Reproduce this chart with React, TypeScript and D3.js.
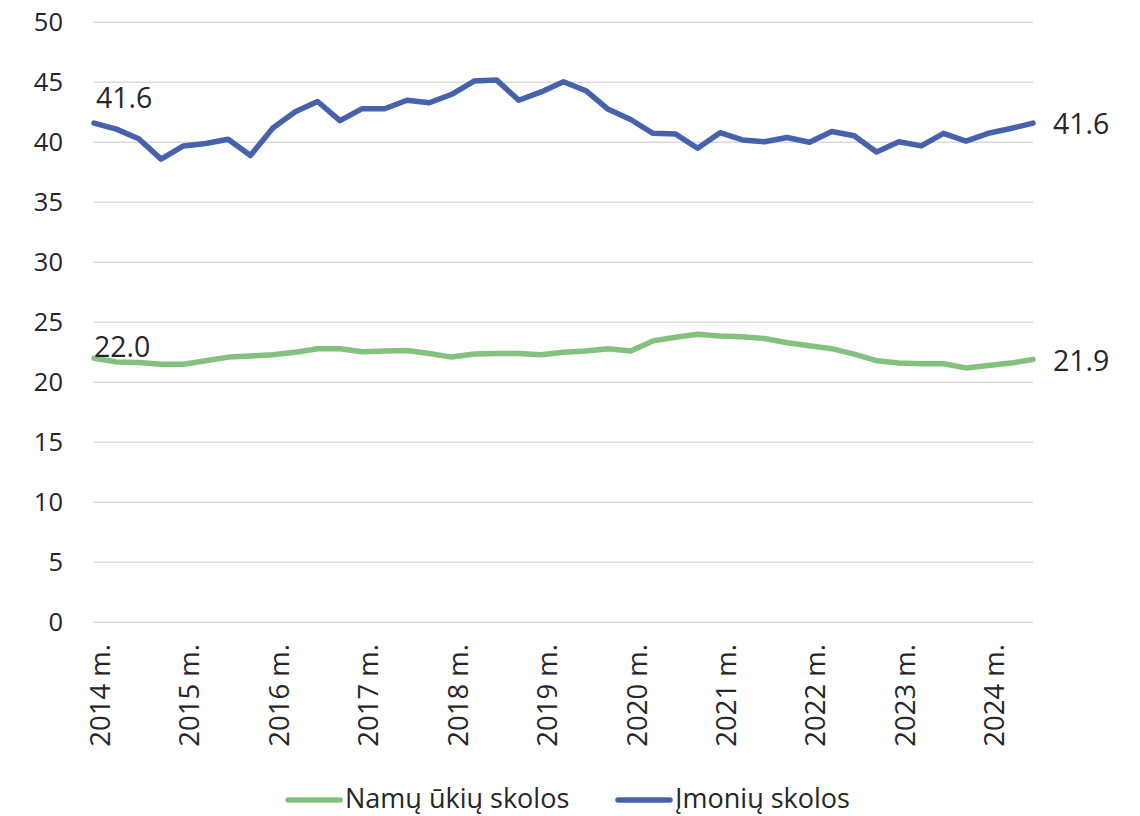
import React from "react";
import * as d3 from "d3";

const years = ["2014 m.", "2015 m.", "2016 m.", "2017 m.", "2018 m.", "2019 m.", "2020 m.", "2021 m.", "2022 m.", "2023 m.", "2024 m."];
const yTicks = [0, 5, 10, 15, 20, 25, 30, 35, 40, 45, 50];

// quarterly values 2014 Q1 .. 2024 Q3
const household = [
  22.0, 21.7, 21.65, 21.5, 21.5, 21.8, 22.1, 22.2, 22.3, 22.5, 22.8,
  22.8, 22.55, 22.6, 22.65, 22.4, 22.1, 22.35, 22.4, 22.4, 22.3, 22.5,
  22.6, 22.8, 22.6, 23.45, 23.75, 24.0, 23.85, 23.8, 23.65, 23.3, 23.05,
  22.8, 22.35, 21.8, 21.6, 21.55, 21.55, 21.2, 21.4, 21.6, 21.9,
];
const business = [
  41.6, 41.1, 40.3, 38.6, 39.7, 39.9, 40.25, 38.9, 41.2, 42.55, 43.4,
  41.8, 42.8, 42.8, 43.5, 43.3, 44.0, 45.1, 45.2, 43.5, 44.2, 45.05,
  44.3, 42.75, 41.9, 40.75, 40.7, 39.5, 40.8, 40.2, 40.05, 40.4, 40.0,
  40.9, 40.55, 39.2, 40.05, 39.7, 40.75, 40.1, 40.75, 41.15, 41.6,
];

const seriesNames = ["Namų ūkių skolos", "Įmonių skolos"];
const colors = ["#85C17E", "#4762AC"];

const W = 1140;
const H = 816;
const left = 94;
const right = 1033;
const top = 22.3;
const bottom = 622.3;
const font = "'Open Sans', 'Noto Sans', sans-serif";
const textColor = "#262626";

export default function App() {
  const n = business.length;
  const x = d3.scaleLinear().domain([0, n - 1]).range([left, right]);
  const y = d3.scaleLinear().domain([0, 50]).range([bottom, top]);
  const line = d3
    .line<number>()
    .x((_, i) => x(i))
    .y((d) => y(d));

  const series = [household, business];
  const fmt = d3.format(".1f");

  return (
    <svg
      width={W}
      height={H}
      style={{ position: "absolute", left: 0, top: 0, background: "#fff" }}
      fontFamily={font}
    >
      {yTicks.map((t) => (
        <g key={t}>
          <line x1={left} x2={right} y1={y(t)} y2={y(t)} stroke="#D9D9D9" strokeWidth={1.5} />
          <text x={63} y={y(t) + 9} textAnchor="end" fontSize={25.5} fill={textColor}>
            {t}
          </text>
        </g>
      ))}
      {years.map((yr, i) => {
        const xi = x(i * 4);
        return (
          <text
            key={yr}
            transform={`translate(${xi + 16},${644}) rotate(-90)`}
            textAnchor="end"
            fontSize={27.5}
            fill={textColor}
          >
            {yr}
          </text>
        );
      })}
      {series.map((s, k) => (
        <path
          key={k}
          d={line(s) || ""}
          fill="none"
          stroke={colors[k]}
          strokeWidth={5.5}
          strokeLinejoin="round"
          strokeLinecap="round"
        />
      ))}
      {/* data labels */}
      <text x={x(0) + 2} y={y(business[0]) - 15} fontSize={28.5} fill={textColor}>
        {fmt(business[0])}
      </text>
      <text x={x(0)} y={y(household[0]) - 1} fontSize={28.5} fill={textColor}>
        {fmt(household[0])}
      </text>
      <text x={x(n - 1) + 20} y={y(business[n - 1]) + 11} fontSize={28.5} fill={textColor}>
        {fmt(business[n - 1])}
      </text>
      <text x={x(n - 1) + 20} y={y(household[n - 1]) + 11} fontSize={28.5} fill={textColor}>
        {fmt(household[n - 1])}
      </text>
      {/* legend */}
      {seriesNames.map((name, k) => {
        const lx = k === 0 ? 288 : 618;
        return (
          <g key={name}>
            <line x1={lx} x2={lx + 52} y1={800} y2={800} stroke={colors[k]} strokeWidth={5.5} strokeLinecap="round" />
            <text x={lx + 57} y={808} fontSize={27} fill={textColor}>
              {name}
            </text>
          </g>
        );
      })}
    </svg>
  );
}
